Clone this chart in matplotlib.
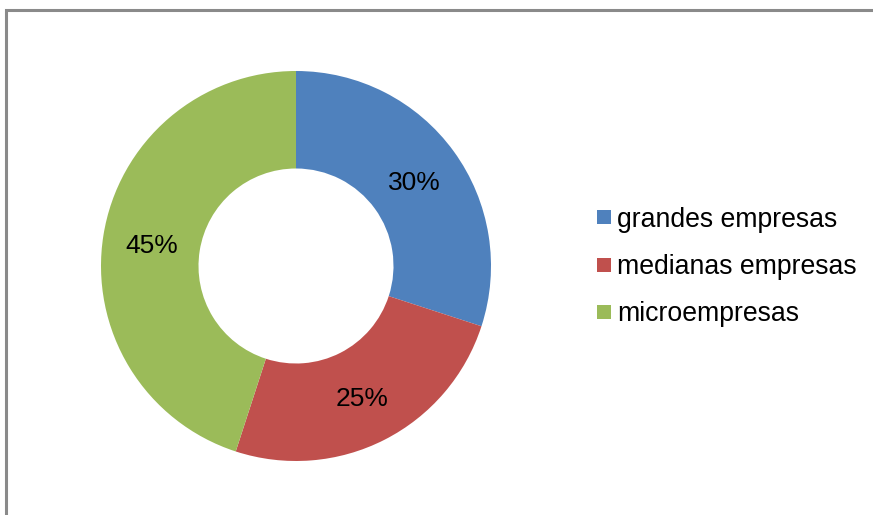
import numpy as np
import matplotlib
matplotlib.use("Agg")
import matplotlib.pyplot as plt
from matplotlib.patches import Rectangle
from matplotlib.lines import Line2D

plt.rcParams['font.family'] = ['Liberation Sans', 'DejaVu Sans']

categories = ["grandes empresas", "medianas empresas", "microempresas"]
shares = [30, 25, 45]
colors = ["#4F81BD", "#C0504D", "#9BBB59"]

W, H = 873, 515
fig = plt.figure(figsize=(W / 100, H / 100), dpi=100)

# outer frame (runs off the right and bottom edges)
fig.add_artist(Rectangle((6 / W, -0.2), 1.2, 1.2 - 10 / H,
                         transform=fig.transFigure, fill=False,
                         edgecolor="#8a8a8a", linewidth=2.2))

ax = fig.add_axes([101 / W, 1 - 461 / H, 390 / W, 390 / H])
wedges, _ = ax.pie(shares, colors=colors, startangle=90, counterclock=False,
                   radius=1.0, wedgeprops=dict(width=0.5, linewidth=0))
ax.set_xlim(-1, 1)
ax.set_ylim(-1, 1)
ax.set_aspect("equal")

# percentage labels placed at the middle of the ring
label_radius = 0.75
angle_override = {2: 171.0}
for i, (w, v) in enumerate(zip(wedges, shares)):
    ang = angle_override.get(i, 0.5 * (w.theta1 + w.theta2))
    x = label_radius * np.cos(np.deg2rad(ang))
    y = label_radius * np.sin(np.deg2rad(ang))
    ax.annotate(f"{v}%", (x, y), xytext=(0, -2), textcoords="offset points",
                ha="center", va="center", fontsize=19, color="black")

handles = [Line2D([], [], marker="s", linestyle="none", markersize=10,
                  markerfacecolor=c, markeredgewidth=0) for c in colors]
fig.legend(handles, categories, loc="center left",
           bbox_to_anchor=(596 / W, 1 - 267 / H), frameon=False,
           fontsize=19.2, handlelength=0.6, handletextpad=0.2,
           labelspacing=0.80, borderpad=0, borderaxespad=0)

fig.savefig("out.png", dpi=100)
